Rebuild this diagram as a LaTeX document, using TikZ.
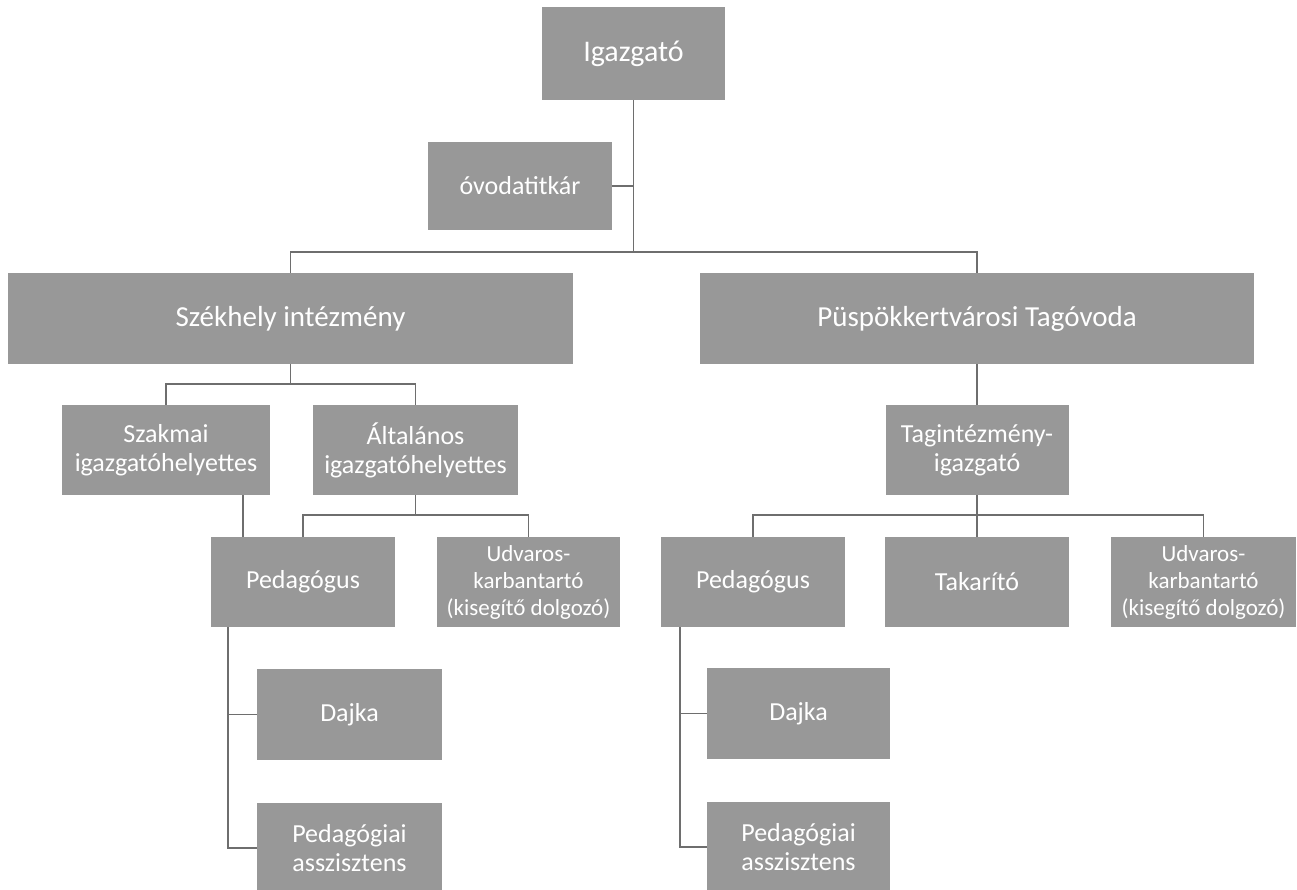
\documentclass[tikz,border=0pt]{standalone}
\usepackage{fontspec}
\setmainfont{Carlito}
\definecolor{boxgray}{RGB}{152,152,152}
\definecolor{linegray}{RGB}{110,110,110}
\begin{document}
\begin{tikzpicture}[x=1pt,y=-1pt,
  box/.style={fill=boxgray, draw=none, text=white, align=center, inner sep=0pt},
  fbig/.style={font=\fontsize{30}{34}\selectfont},
  fmid/.style={font=\fontsize{29}{33}\selectfont},
  fsmall/.style={font=\fontsize{26}{29}\selectfont},
  ftiny/.style={font=\fontsize{23}{27}\selectfont},
  conn/.style={draw=linegray, line width=1.1pt}]
\useasboundingbox (0,0) rectangle (1297,890);
\fill[white] (0,0) rectangle (1297,890);

% nodes
\node[box,fbig,minimum width=183pt,minimum height=93pt] (ig) at (633.5,53.5) {Igazgató};
\node[box,fsmall,minimum width=184pt,minimum height=88pt] (ov) at (520,186) {óvodatitkár};
\node[box,fmid,minimum width=565pt,minimum height=91pt] (szek) at (290.5,318.5) {Székhely intézmény};
\node[box,fmid,minimum width=554pt,minimum height=91pt] (pus) at (977,318.5) {Püspökkertvárosi Tagóvoda};
\node[box,fsmall,minimum width=208pt,minimum height=90pt] (szak) at (166,450) {Szakmai\\igazgatóhelyettes};
\node[box,fsmall,minimum width=205pt,minimum height=90pt] (alt) at (415.5,450) {Általános\\igazgatóhelyettes};
\node[box,fsmall,minimum width=183pt,minimum height=90pt] (tag) at (977,450) {Tagintézmény-\\igazgató};
\node[box,fsmall,minimum width=184pt,minimum height=90pt] (pedL) at (303,582) {Pedagógus};
\node[box,ftiny,minimum width=183pt,minimum height=90pt] (udvL) at (528.5,582) {Udvaros-\\karbantartó\\(kisegítő dolgozó)};
\node[box,fsmall,minimum width=184pt,minimum height=90pt] (pedR) at (753,582) {Pedagógus};
\node[box,fsmall,minimum width=184pt,minimum height=90pt] (tak) at (977,582) {Takarító};
\node[box,ftiny,minimum width=185pt,minimum height=90pt] (udvR) at (1203.5,582) {Udvaros-\\karbantartó\\(kisegítő dolgozó)};
\node[box,fsmall,minimum width=185pt,minimum height=91pt] (dajL) at (349.5,714.5) {Dajka};
\node[box,fsmall,minimum width=185pt,minimum height=90pt] (paL) at (349.5,848) {Pedagógiai\\asszisztens};
\node[box,fsmall,minimum width=183pt,minimum height=91pt] (dajR) at (798.5,713.5) {Dajka};
\node[box,fsmall,minimum width=183pt,minimum height=90pt] (paR) at (798.5,847) {Pedagógiai\\asszisztens};

% helper coordinates
\coordinate (busTop) at (633.5,252);
\coordinate (busSzek) at (290.5,384);
\coordinate (busAlt) at (415.5,515);
\coordinate (busTag) at (977,515);
\coordinate (spineL) at (228,627);
\coordinate (spineR) at (680,627);
\coordinate (szakX) at (243,0);

% connectors
\draw[conn] (ig.south) -- (busTop);
\draw[conn] (ov.east) -- (ov.east -| ig.south);
\draw[conn] (szek.north) -- (szek.north |- busTop) -- (pus.north |- busTop) -- (pus.north);
\draw[conn] (szek.south) -- (busSzek);
\draw[conn] (szak.north) -- (szak.north |- busSzek) -- (alt.north |- busSzek) -- (alt.north);
\draw[conn] (szakX |- szak.south) -- (szakX |- pedL.north);
\draw[conn] (alt.south) -- (busAlt);
\draw[conn] (pedL.north) -- (pedL.north |- busAlt) -- (udvL.north |- busAlt) -- (udvL.north);
\draw[conn] (pus.south) -- (tag.north);
\draw[conn] (tag.south) -- (busTag);
\draw[conn] (pedR.north) -- (pedR.north |- busTag) -- (udvR.north |- busTag) -- (udvR.north);
\draw[conn] (tak.north |- busTag) -- (tak.north);
\draw[conn] (spineL) -- (spineL |- paL.west) -- (paL.west);
\draw[conn] (spineL |- dajL.west) -- (dajL.west);
\draw[conn] (spineR) -- (spineR |- paR.west) -- (paR.west);
\draw[conn] (spineR |- dajR.west) -- (dajR.west);
\end{tikzpicture}
\end{document}
